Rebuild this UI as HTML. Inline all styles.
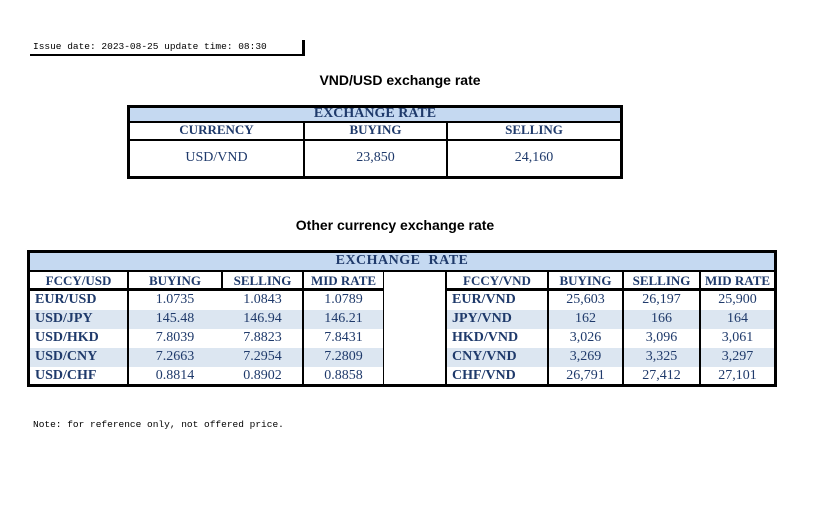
<!DOCTYPE html><html><head><style>
body{margin:0;width:815px;height:530px;background:#fff;position:relative;overflow:hidden}
.a{position:absolute}
.k{position:absolute;background:#000}
.t{position:absolute;text-align:center;color:#1f3a6b;font-family:"Liberation Serif",serif;font-size:13px;line-height:16px;white-space:nowrap}
.b{font-weight:bold}
.l{text-align:left;padding-left:5px;box-sizing:border-box}
.m{font-family:"Liberation Mono",monospace;font-size:9.5px;color:#000}
.h{font-family:"Liberation Sans",sans-serif;font-weight:bold;font-size:14px;color:#000}
</style></head><body>
<div class="a m" style="left:33px;top:41px">Issue date: 2023-08-25 update time: 08:30</div>
<div class="k" style="left:30px;top:54px;width:275px;height:2px"></div>
<div class="k" style="left:302px;top:40px;width:3px;height:16px"></div>
<div class="a h" style="left:300px;top:72px;width:200px;text-align:center">VND/USD exchange rate</div>

<div class="a" style="left:129px;top:108px;width:492px;height:13px;background:#c5d9f1"></div>
<div class="k" style="left:127px;top:105px;width:496px;height:3px"></div>
<div class="k" style="left:127px;top:176px;width:496px;height:3px"></div>
<div class="k" style="left:127px;top:105px;width:3px;height:74px"></div>
<div class="k" style="left:620px;top:105px;width:3px;height:74px"></div>
<div class="k" style="left:127px;top:121px;width:496px;height:2px"></div>
<div class="k" style="left:127px;top:139px;width:496px;height:2px"></div>
<div class="k" style="left:303px;top:121px;width:2px;height:58px"></div>
<div class="k" style="left:446px;top:121px;width:2px;height:58px"></div>
<div class="t b" style="left:127px;top:106px;width:496px;font-size:14px">EXCHANGE RATE</div>
<div class="t b" style="left:130px;top:122px;width:173px">CURRENCY</div>
<div class="t b" style="left:305px;top:122px;width:141px">BUYING</div>
<div class="t b" style="left:448px;top:122px;width:172px">SELLING</div>
<div class="t" style="left:130px;top:150px;width:173px;font-size:14px">USD/VND</div>
<div class="t" style="left:305px;top:150px;width:141px;font-size:14px">23,850</div>
<div class="t" style="left:448px;top:150px;width:172px;font-size:14px">24,160</div>

<div class="a h" style="left:270px;top:217px;width:250px;text-align:center">Other currency exchange rate</div>

<div class="a" style="left:30px;top:253px;width:744px;height:17px;background:#c5d9f1"></div>
<div class="a" style="left:30px;top:310px;width:744px;height:19px;background:#dce6f1"></div>
<div class="a" style="left:30px;top:348px;width:744px;height:19px;background:#dce6f1"></div>
<div class="a" style="left:384px;top:272px;width:61px;height:113px;background:#fff"></div>
<div class="k" style="left:27px;top:250px;width:750px;height:3px"></div>
<div class="k" style="left:27px;top:384px;width:750px;height:3px"></div>
<div class="k" style="left:27px;top:250px;width:3px;height:137px"></div>
<div class="k" style="left:774px;top:250px;width:3px;height:137px"></div>
<div class="k" style="left:27px;top:270px;width:750px;height:2px"></div>
<div class="k" style="left:27px;top:288px;width:357px;height:3px"></div>
<div class="k" style="left:445px;top:288px;width:332px;height:3px"></div>
<div class="k" style="left:127px;top:270px;width:2px;height:116px"></div>
<div class="k" style="left:221px;top:270px;width:2px;height:21px"></div>
<div class="k" style="left:302px;top:270px;width:2px;height:116px"></div>
<div class="k" style="left:383px;top:270px;width:1px;height:116px"></div>
<div class="k" style="left:445px;top:270px;width:2px;height:116px"></div>
<div class="k" style="left:547px;top:270px;width:2px;height:116px"></div>
<div class="k" style="left:622px;top:270px;width:2px;height:116px"></div>
<div class="k" style="left:699px;top:270px;width:2px;height:116px"></div>
<div class="t b" style="left:27px;top:253px;width:750px;font-size:14px;letter-spacing:0.5px">EXCHANGE&nbsp; RATE</div>

<div class="t b" style="left:30px;top:273px;width:97px">FCCY/USD</div>
<div class="t b" style="left:129px;top:273px;width:92px">BUYING</div>
<div class="t b" style="left:223px;top:273px;width:79px">SELLING</div>
<div class="t b" style="left:304px;top:273px;width:79px">MID RATE</div>
<div class="t b" style="left:447px;top:273px;width:100px">FCCY/VND</div>
<div class="t b" style="left:549px;top:273px;width:73px">BUYING</div>
<div class="t b" style="left:624px;top:273px;width:75px">SELLING</div>
<div class="t b" style="left:701px;top:273px;width:73px">MID RATE</div>

<div id="rows"></div>
<script>
var L=[["EUR/USD","1.0735","1.0843","1.0789","EUR/VND","25,603","26,197","25,900"],
["USD/JPY","145.48","146.94","146.21","JPY/VND","162","166","164"],
["USD/HKD","7.8039","7.8823","7.8431","HKD/VND","3,026","3,096","3,061"],
["USD/CNY","7.2663","7.2954","7.2809","CNY/VND","3,269","3,325","3,297"],
["USD/CHF","0.8814","0.8902","0.8858","CHF/VND","26,791","27,412","27,101"]];
var c=[[30,97],[129,92],[223,79],[304,79],[447,100],[549,73],[624,75],[701,73]],h="";
L.forEach(function(r,i){var y=292+i*19;r.forEach(function(v,j){var cl=(j==0||j==4)?"t b l":"t";
h+='<div class="'+cl+'" style="left:'+c[j][0]+'px;top:'+y+'px;width:'+c[j][1]+'px;font-size:14px">'+v+'</div>';});});
document.getElementById("rows").innerHTML=h;
</script>
<div class="a m" style="left:33px;top:419px">Note: for reference only, not offered price.</div>
</body></html>
